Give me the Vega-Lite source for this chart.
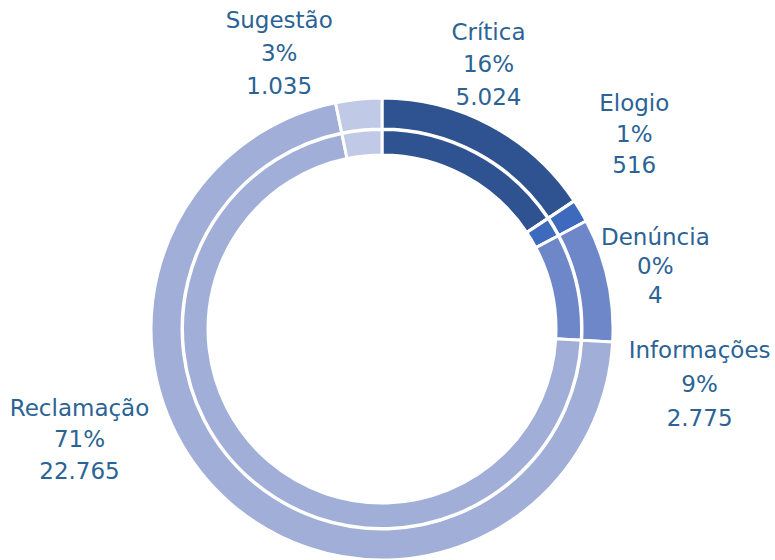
{
  "$schema": "https://vega.github.io/schema/vega-lite/v6.json",
  "autosize": "none",
  "width": 764,
  "height": 460,
  "padding": {"top": 99, "left": 0, "right": 11, "bottom": 1},
  "background": "white",
  "config": {"view": {"stroke": null}},
  "data": {
    "values": [
      {"category": "Crítica", "value": 5024, "label": ["Crítica", "16%", "5.024"]},
      {"category": "Denúncia", "value": 4, "label": ["Denúncia", "0%", "4"]},
      {"category": "Elogio", "value": 516, "label": ["Elogio", "1%", "516"]},
      {"category": "Informações", "value": 2775, "label": ["Informações", "9%", "2.775"]},
      {"category": "Reclamação", "value": 22765, "label": ["Reclamação", "71%", "22.765"]},
      {"category": "Sugestão", "value": 1035, "label": ["Sugestão", "3%", "1.035"]}
    ]
  },
  "encoding": {
    "theta": {"field": "value", "type": "quantitative", "stack": true}
  },
  "layer": [
    {
      "mark": {"type": "arc", "radius": 231, "radius2": 200, "stroke": "white", "strokeWidth": 3},
      "encoding": {
        "color": {
          "field": "category", "type": "nominal", "legend": null,
          "scale": {
            "domain": ["Crítica", "Denúncia", "Elogio", "Informações", "Reclamação", "Sugestão"],
            "range": ["#2f5290", "#4f78c4", "#3d6abc", "#6e87c8", "#a0aed8", "#c0c9e5"]
          }
        }
      }
    },
    {
      "mark": {"type": "arc", "radius": 199.5, "radius2": 174, "stroke": "white", "strokeWidth": 3},
      "encoding": {
        "color": {"field": "category", "type": "nominal", "legend": null}
      }
    },
    {
      "mark": {"type": "text", "radius": 285, "dx": -28, "dy": -45, "font": "DejaVu Sans", "fontSize": 23, "lineHeight": 32.5, "color": "#2b6395", "align": "center", "baseline": "middle"},
      "encoding": {
        "detail": {"field": "category", "type": "nominal"},
        "text": {"condition": {"test": "datum.category === 'Crítica'", "field": "label", "type": "nominal"}, "value": ""}
      }
    },
    {
      "mark": {"type": "text", "radius": 318, "dx": -21, "dy": -62, "font": "DejaVu Sans", "fontSize": 23, "lineHeight": 31, "color": "#2b6395", "align": "center", "baseline": "middle"},
      "encoding": {
        "detail": {"field": "category", "type": "nominal"},
        "text": {"condition": {"test": "datum.category === 'Elogio'", "field": "label", "type": "nominal"}, "value": ""}
      }
    },
    {
      "mark": {"type": "text", "radius": 290, "dx": 32, "dy": 70, "font": "DejaVu Sans", "fontSize": 23, "lineHeight": 29, "color": "#2b6395", "align": "center", "baseline": "middle"},
      "encoding": {
        "detail": {"field": "category", "type": "nominal"},
        "text": {"condition": {"test": "datum.category === 'Denúncia'", "field": "label", "type": "nominal"}, "value": ""}
      }
    },
    {
      "mark": {"type": "text", "radius": 322, "dx": 3, "dy": 91, "font": "DejaVu Sans", "fontSize": 23, "lineHeight": 34, "color": "#2b6395", "align": "center", "baseline": "middle"},
      "encoding": {
        "detail": {"field": "category", "type": "nominal"},
        "text": {"condition": {"test": "datum.category === 'Informações'", "field": "label", "type": "nominal"}, "value": ""}
      }
    },
    {
      "mark": {"type": "text", "radius": 322, "dx": -92, "dy": -164, "font": "DejaVu Sans", "fontSize": 23, "lineHeight": 31.5, "color": "#2b6395", "align": "center", "baseline": "middle"},
      "encoding": {
        "detail": {"field": "category", "type": "nominal"},
        "text": {"condition": {"test": "datum.category === 'Reclamação'", "field": "label", "type": "nominal"}, "value": ""}
      }
    },
    {
      "mark": {"type": "text", "radius": 295, "dx": -73, "dy": -15, "font": "DejaVu Sans", "fontSize": 23, "lineHeight": 33, "color": "#2b6395", "align": "center", "baseline": "middle"},
      "encoding": {
        "detail": {"field": "category", "type": "nominal"},
        "text": {"condition": {"test": "datum.category === 'Sugestão'", "field": "label", "type": "nominal"}, "value": ""}
      }
    }
  ]
}
